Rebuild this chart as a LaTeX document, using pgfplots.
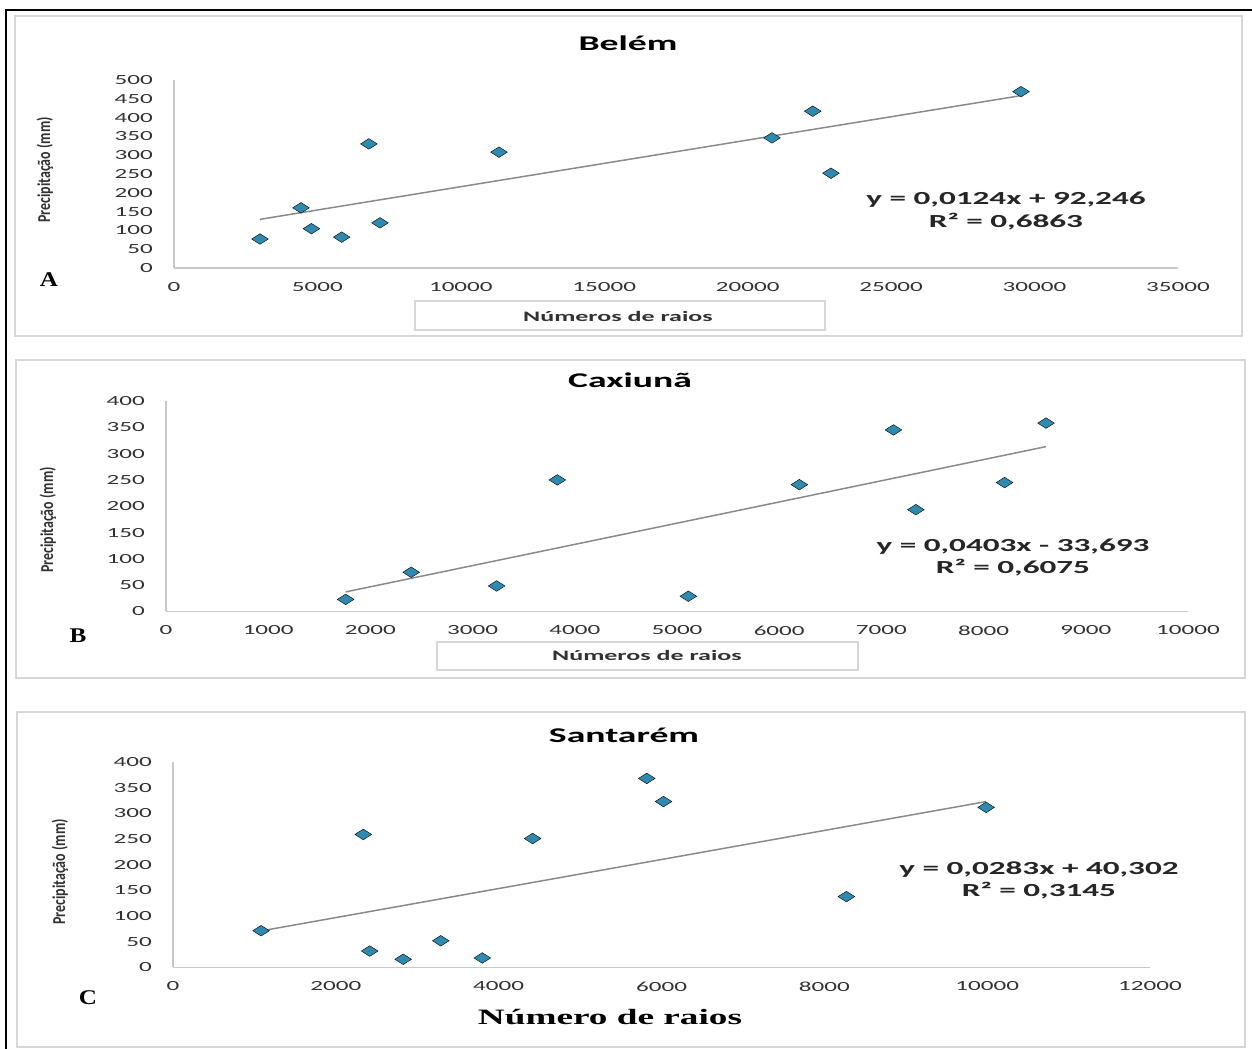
\documentclass[border=0pt]{standalone}
\usepackage{pgfplots}
\pgfplotsset{compat=1.18}
\usepackage{fontspec}
\setmainfont{Carlito}
\newfontfamily\wide{Carlito}[FakeStretch=1.8]
\newfontfamily\serifwide{Liberation Serif}[FakeStretch=1.7]
\newfontfamily\serifA{Liberation Serif}[FakeStretch=1.2]
\definecolor{markblue}{RGB}{46,138,174}
\definecolor{axisgray}{RGB}{200,200,200}
\definecolor{trendgray}{RGB}{138,138,138}
\definecolor{tickgray}{RGB}{50,50,50}
\definecolor{boxgray}{RGB}{215,215,215}
\pgfplotsset{panel/.style={
  scale only axis, anchor=south west,
  axis x line*=bottom, axis y line*=left,
  axis line style={draw=axisgray, line width=1.3bp},
  major tick length=0pt, tick style={draw=none},
  ticklabel style={font=\wide\fontsize{14}{14}\selectfont, text=tickgray},
  yticklabel style={anchor=east, inner sep=0pt, xshift=-21bp},
  xticklabel style={anchor=north, inner sep=0pt, yshift=-14bp},
  /pgf/number format/1000 sep={},
  /pgf/number format/assume math mode=true,
  scaled ticks=false, clip=false,
  scatterstyle/.style={only marks, mark=diamond*, mark size=5.3bp,
     mark options={xscale=2.1, fill=markblue, draw=none}},
  trendstyle/.style={draw=trendgray, line width=1.5bp, no marks}
}}
\begin{document}
\begin{tikzpicture}[x=1bp,y=1bp]
\useasboundingbox (0,0) rectangle (1252,1049);
% panel frames
\draw[boxgray, line width=2bp] (15,713) rectangle (1242,1033);
\draw[boxgray, line width=2bp] (16,371) rectangle (1245,689);
\draw[boxgray, line width=2bp] (17,2) rectangle (1245,337);
\draw[black, line width=2.5bp] (6,0) -- (6,1039) -- (1252,1039);

% ---------- A: Belem ----------
\begin{axis}[panel, at={(174bp,781bp)}, width=1004bp, height=188bp,
  xmin=0, xmax=35000, ymin=0, ymax=500,
  xtick={0,5000,...,35000}, ytick={0,50,...,500}]
\addplot[trendstyle] coordinates {(2998,129.4) (29527,458.4)};
\addplot[scatterstyle] coordinates {
(2998,77) (4427,160) (4790,104.5) (5846,82) (6794,330) (7181,120)
(11330,308) (20846,346) (22268,417) (22903,252) (29527,469)};
\end{axis}

% ---------- B: Caxiuna ----------
\begin{axis}[panel, at={(166bp,437.5bp)}, width=1022bp, height=210.5bp,
  xmin=0, xmax=10000, ymin=0, ymax=400,
  xtick={0,1000,...,10000}, ytick={0,50,...,400}]
\addplot[trendstyle] coordinates {(1758,37.2) (8611,313.3)};
\addplot[scatterstyle] coordinates {
(1758,23) (2399,74.5) (3235,48.5) (3829,250) (5111,29) (6197,241)
(7118,345) (7337,193.5) (8205,245) (8611,358)};
\end{axis}

% ---------- C: Santarem ----------
\begin{axis}[panel, at={(173bp,81.5bp)}, width=977bp, height=205.5bp,
  xmin=0, xmax=12000, ymin=0, ymax=400,
  xtick={0,2000,...,12000}, ytick={0,50,...,400}]
\addplot[trendstyle] coordinates {(1082,71.2) (9987,322.9)};
\addplot[scatterstyle] coordinates {
(1082,71.6) (2337,259) (2416,32) (2827,16) (3289,52) (3799,18.5)
(4417,251) (5819,368) (6025,323) (8271,138) (9987,311.6)};
\end{axis}

% titles
\node[anchor=base, font=\wide\bfseries\fontsize{21}{21}\selectfont] at (628,998) {Belém};
\node[anchor=base, font=\wide\bfseries\fontsize{21}{21}\selectfont] at (630,661) {Caxiunã};
\node[anchor=base, font=\wide\bfseries\fontsize{21}{21}\selectfont] at (624,306) {Santarém};

% equations
\begin{scope}[every node/.style={anchor=base, text={black!85}, font=\wide\bfseries\fontsize{18.5}{18.5}\selectfont}]
\node at (1006,844) {y = 0,0124x + 92,246};
\node at (1006,821) {R² = 0,6863};
\node at (1013,497) {y = 0,0403x - 33,693};
\node at (1013,475) {R² = 0,6075};
\node at (1039,174) {y = 0,0283x + 40,302};
\node at (1039,152) {R² = 0,3145};
\end{scope}

% y labels
\begin{scope}[every node/.style={text=tickgray, font=\bfseries\fontsize{14}{14}\selectfont}]
\node[xscale=1.3, rotate=90] at (45,879) {Precipitação (mm)};
\node[xscale=1.3, rotate=90] at (48,529) {Precipitação (mm)};
\node[xscale=1.3, rotate=90] at (60,177) {Precipitação (mm)};
\end{scope}

% x label boxes
\draw[boxgray, line width=1.5bp] (415,719) rectangle (825,748);
\node[text=tickgray, font=\wide\bfseries\fontsize{14.5}{14.5}\selectfont] at (618,733) {Números de raios};
\draw[boxgray, line width=1.5bp] (437,379) rectangle (858,407);
\node[text=tickgray, font=\wide\bfseries\fontsize{14.5}{14.5}\selectfont] at (647,394) {Números de raios};

% panel letters
\node[font=\serifA\bfseries\fontsize{21}{21}\selectfont] at (49,769) {A};
\node[font=\serifA\bfseries\fontsize{21}{21}\selectfont] at (78,413) {B};
\node[font=\serifA\bfseries\fontsize{21}{21}\selectfont] at (88,51) {C};

% C x label
\node[anchor=base, font=\serifwide\bfseries\fontsize{22}{22}\selectfont] at (610,24) {Número de raios};
\end{tikzpicture}
\end{document}
